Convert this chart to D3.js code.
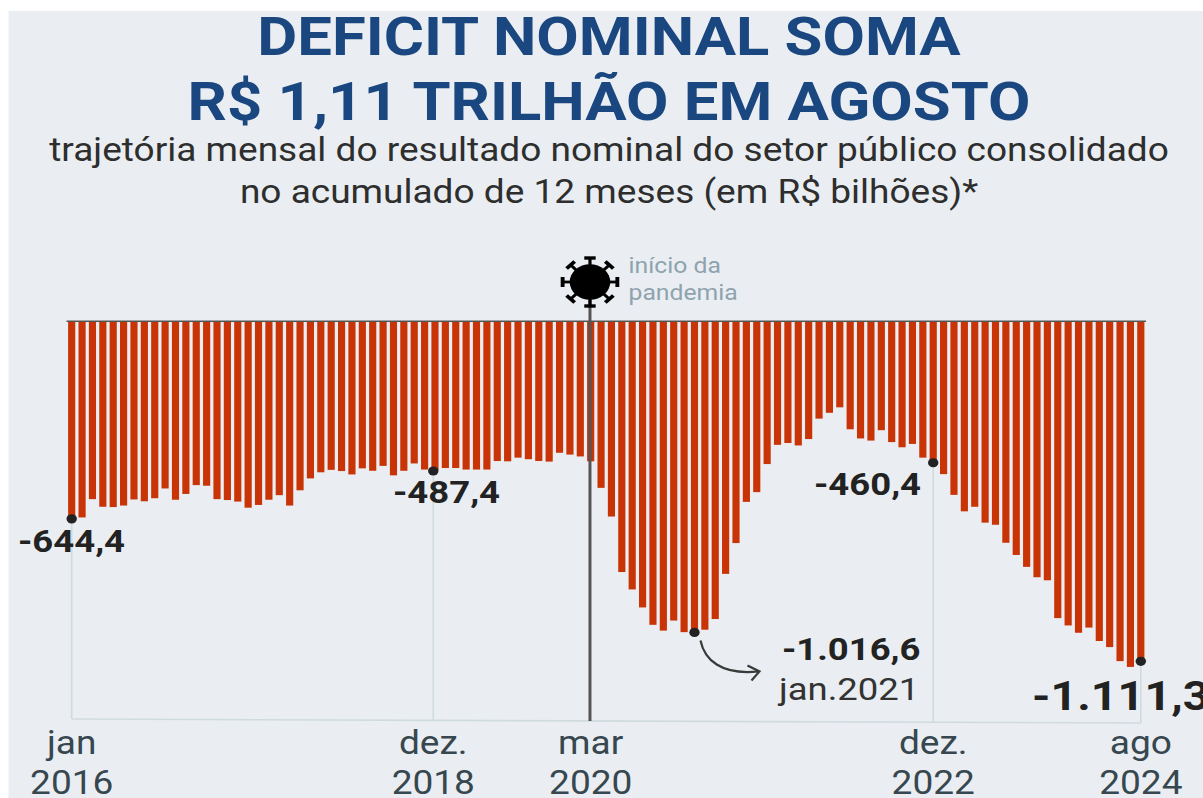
<!DOCTYPE html>
<html><head><meta charset="utf-8">
<script src="https://cdn.jsdelivr.net/npm/d3@7"></script>
<style>html,body{margin:0;padding:0;background:#fff;overflow:hidden}svg{display:block}text{font-family:Roboto,sans-serif}</style>
</head><body><svg id="c" width="1203" height="798"></svg>
<script>
const titleLines = ["DEFICIT NOMINAL SOMA", "R$ 1,11 TRILHÃO EM AGOSTO"];
const subtitleLines = ["trajetória mensal do resultado nominal do setor público consolidado", "no acumulado de 12 meses (em R$ bilhões)*"];
const deficit = [
 644.4,643,583,608,609,604,584,590,580,548,585,566,
 537,539,583,586,591,611,602,585,570,604,554,515,
 495,487,491,502,482,490,474,505,490,466,486,487.4,
 481,481,486,486,486,458,459,447,452,458,460,431,
 437,443,459,546,640,822,879,938,995,1014,981,1019,
 1016.6,1011,976,828,727,592,560,468,405,399,407,386,
 319,300,282,354,384,391,357,396,413,402,447,460.4,
 501,569,623,608,660,667,726,766,805,839,849,973,
 997,1021,1004,1048,1068,1114,1133,1111.3];
const tickIdx = [0,35,50,83,103];
const tickMonth = ["jan","dez.","mar","dez.","ago"];
const tickYear = ["2016","2018","2020","2022","2024"];
const calloutIdx = [0,35,60,83,103];
const calloutText = ["-644,4","-487,4","-1.016,6","-460,4","-1.111,3"];
const SX = 1.14; // the reference is stretched horizontally

const svg = d3.select("#c");
svg.append("rect").attr("x",8.5).attr("y",11).attr("width",1195).attr("height",787).attr("fill","#eaeef2");

const x = d3.scaleBand().domain(d3.range(deficit.length)).range([66.5,1146]).paddingInner(0.31).paddingOuter(0.155);
const cx = i => x(i)+x.bandwidth()/2;
const dotX = i => cx(i) - (i===35 ? 1.7 : 0);
const y = d3.scaleLinear().domain([0,-1111.3]).range([321.3,660.3]);
const place = (px,py) => `translate(${px},${py}) scale(${SX},1)`;

// titles
svg.selectAll("text.t").data(titleLines).join("text").attr("class","t")
 .attr("transform",(d,i)=>place(609,55+i*65)).attr("text-anchor","middle")
 .attr("font-size",54).attr("font-weight",700).attr("fill","#1a477f").text(d=>d);
svg.selectAll("text.s").data(subtitleLines).join("text").attr("class","s")
 .attr("transform",(d,i)=>place(609,161+i*42)).attr("text-anchor","middle")
 .attr("font-size",32.5).attr("fill","#2e2e2e").text(d=>d);

// guides and axis
const baseY = i => 719 + 4*i/103;
svg.append("line").attr("x1",cx(0)).attr("x2",cx(103)).attr("y1",baseY(0)).attr("y2",baseY(103))
 .attr("stroke","#d0dbde").attr("stroke-width",1.6);
[0,35,83,103].forEach(i=>{
 svg.append("line").attr("x1",dotX(i)).attr("x2",dotX(i)).attr("y1",y(-deficit[i])).attr("y2",baseY(i))
  .attr("stroke","#d0dbde").attr("stroke-width",1.6);
});

// bars
svg.selectAll("rect.b").data(deficit).join("rect").attr("class","b")
 .attr("x",(d,i)=>x(i)).attr("width",x.bandwidth())
 .attr("y",y(0)).attr("height",d=>y(-d)-y(0)).attr("fill","#c93407");
svg.append("line").attr("x1",66.5).attr("x2",1146).attr("y1",y(0)).attr("y2",y(0))
 .attr("stroke","#555").attr("stroke-width",1.4);

// pandemic line and virus
const px = cx(50)-0.7;
svg.append("line").attr("x1",px).attr("x2",px).attr("y1",300).attr("y2",baseY(50))
 .attr("stroke","#555").attr("stroke-width",3);
const virus = svg.append("g").attr("transform",`translate(${px},282) scale(${SX},1)`);
d3.range(8).forEach(k=>{
 const g = virus.append("g").attr("transform",`rotate(${k*45})`);
 g.append("line").attr("x1",0).attr("x2",0).attr("y1",-15).attr("y2",-24).attr("stroke","#000").attr("stroke-width",2.8);
 g.append("line").attr("x1",-5).attr("x2",5).attr("y1",-24).attr("y2",-24).attr("stroke","#000").attr("stroke-width",3.4);
});
virus.append("circle").attr("r",17.8).attr("fill","#000");
svg.selectAll("text.p").data(["início da","pandemia"]).join("text").attr("class","p")
 .attr("transform",(d,i)=>place(628.5,273+i*26.5)).attr("font-size",21.7).attr("fill","#8ea3ae").text(d=>d);

// dots
svg.selectAll("ellipse.d").data(calloutIdx).join("ellipse").attr("class","d")
 .attr("cx",i=>dotX(i)).attr("cy",i=>y(-deficit[i])+1).attr("rx",5.2).attr("ry",4.6).attr("fill","#222");

// callouts
const calloutX = [18,393,782,814,1032];
const calloutY = [552,503,660,495,710];
const calloutSize = [32,32,32,32,41];
svg.selectAll("text.c").data(calloutText).join("text").attr("class","c")
 .attr("transform",(d,i)=>place(calloutX[i],calloutY[i]))
 .attr("font-size",(d,i)=>calloutSize[i]).attr("font-weight",700).attr("fill","#222").text(d=>d);
svg.append("text").attr("transform",place(779,700)).attr("font-size",32).attr("fill","#333").text("jan.2021");

// arrow
const ax = cx(60), ay = y(-deficit[60]);
svg.append("path").attr("d",`M${ax+6},${ay+9} C${ax+10},${ay+28} ${ax+26},${ay+44} ${ax+64},${ay+40} M${ax+53},${ay+34} L${ax+65},${ay+40} L${ax+57},${ay+49}`)
 .attr("fill","none").attr("stroke","#3a3a3a").attr("stroke-width",2.2);

// ticks
svg.selectAll("text.m").data(tickMonth).join("text").attr("class","m")
 .attr("transform",(d,i)=>place(dotX(tickIdx[i]),754)).attr("text-anchor","middle").attr("font-size",32.5).attr("fill","#36474f").text(d=>d);
svg.selectAll("text.yr").data(tickYear).join("text").attr("class","yr")
 .attr("transform",(d,i)=>place(dotX(tickIdx[i]),794)).attr("text-anchor","middle").attr("font-size",32.5).attr("fill","#36474f").text(d=>d);
</script></body></html>
